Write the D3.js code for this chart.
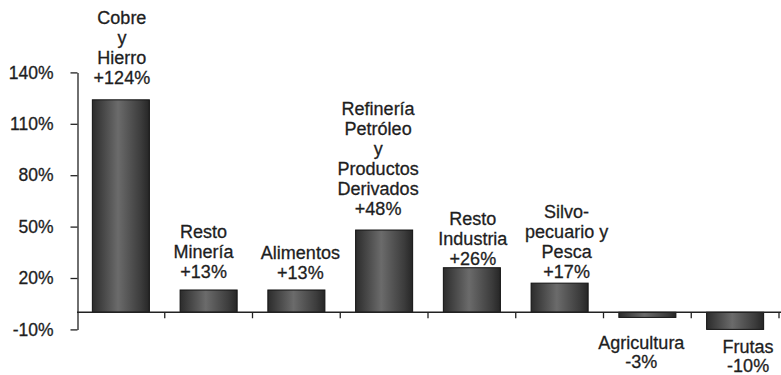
<!DOCTYPE html>
<html>
<head>
<meta charset="utf-8">
<script src="https://cdn.jsdelivr.net/npm/d3@7"></script>
<style>
  html, body { margin: 0; padding: 0; background: #fff; }
  svg { display: block; }
  text { font-family: "Liberation Sans", Arial, sans-serif; fill: #1e1e1e; stroke: #1e1e1e; stroke-width: 0.3px; }
</style>
</head>
<body>
<svg id="chart" width="781" height="375"></svg>
<script>
// Sector names (one entry per text line) and their percentage change
const sectors = [
  ["Cobre", "y", "Hierro"],
  ["Resto", "Minería"],
  ["Alimentos"],
  ["Refinería", "Petróleo", "y", "Productos", "Derivados"],
  ["Resto", "Industria"],
  ["Silvo-", "pecuario y", "Pesca"],
  ["Agricultura"],
  ["Frutas"]
];
const changes = [124, 13, 13, 48, 26, 17, -3, -10];
const yTicks = [-10, 20, 50, 80, 110, 140];

// Hand-placed label nudges: [horizontal shift, gap from bar end] in px
const labelNudge = [[1, 16], [-5, 12], [4, 11], [-6, 15], [1, 3], [7, 5], [-6, 32], [13, 24]];

const svg = d3.select("#chart");
const x0 = 77, x1 = 779;

const x = d3.scaleBand()
  .domain(d3.range(sectors.length))
  .range([x0, x1])
  .paddingInner(0.35)
  .paddingOuter(0.175);

const y = d3.scaleLinear().domain([-10, 140]).range([329.4, 72.4]);

// Cylinder-like shading across each bar
const grad = svg.append("defs").append("linearGradient")
  .attr("id", "barShade").attr("x1", "0%").attr("x2", "100%").attr("y1", "0%").attr("y2", "0%");
grad.append("stop").attr("offset", "0%").attr("stop-color", "#2c2c2c");
grad.append("stop").attr("offset", "45%").attr("stop-color", "#6b6b6b");
grad.append("stop").attr("offset", "85%").attr("stop-color", "#3c3c3c");
grad.append("stop").attr("offset", "100%").attr("stop-color", "#262626");

// Bars
svg.append("g").selectAll("rect")
  .data(changes)
  .join("rect")
  .attr("x", (d, i) => x(i))
  .attr("width", x.bandwidth())
  .attr("y", d => y(Math.max(0, d)))
  .attr("height", d => Math.abs(y(d) - y(0)))
  .attr("fill", "url(#barShade)")
  .attr("stroke", "#111")
  .attr("stroke-width", 1);

// Y axis
const yAxis = d3.axisLeft(y)
  .tickValues(yTicks)
  .tickFormat(d => d + "%")
  .tickSizeInner(7)
  .tickSizeOuter(0)
  .tickPadding(17);

const gy = svg.append("g")
  .attr("transform", `translate(${x0 + 0.5},0)`)
  .call(yAxis);
gy.select(".domain").attr("stroke", "#222").attr("stroke-width", 1.3);
gy.selectAll(".tick line").attr("stroke", "#222").attr("stroke-width", 1.3);
gy.selectAll(".tick text")
  .attr("font-size", "17.5px")
  .attr("font-family", "'Liberation Sans', Arial, sans-serif")
  .attr("fill", "#1e1e1e");

// Zero baseline with category separators
const gx = svg.append("g").attr("transform", `translate(0,${y(0)})`);
gx.append("line")
  .attr("x1", x0).attr("x2", 781)
  .attr("stroke", "#222").attr("stroke-width", 1.3);
gx.selectAll("line.sep")
  .data(d3.range(1, sectors.length + 1))
  .join("line")
  .attr("class", "sep")
  .attr("x1", i => x0 + i * x.step())
  .attr("x2", i => x0 + i * x.step())
  .attr("y1", 0).attr("y2", 6)
  .attr("stroke", "#222").attr("stroke-width", 1.3);

// Labels: sector name lines followed by the signed change
const fmt = v => (v > 0 ? "+" : "") + v + "%";
const lineH = 20;
const labels = svg.append("g");
sectors.forEach((lines, i) => {
  const v = changes[i];
  const all = lines.concat([fmt(v)]);
  const cx = x(i) + x.bandwidth() / 2 + labelNudge[i][0];
  let firstBase;
  if (v >= 0) {
    const lastBase = y(v) - labelNudge[i][1];
    firstBase = lastBase - (all.length - 1) * lineH;
  } else {
    firstBase = y(v) + labelNudge[i][1];
  }
  const t = labels.append("text")
    .attr("text-anchor", "middle")
    .attr("font-size", "18px");
  all.forEach((s, k) => {
    t.append("tspan").attr("x", cx).attr("y", firstBase + k * (v >= 0 ? lineH : 19)).text(s);
  });
});
</script>
</body>
</html>
